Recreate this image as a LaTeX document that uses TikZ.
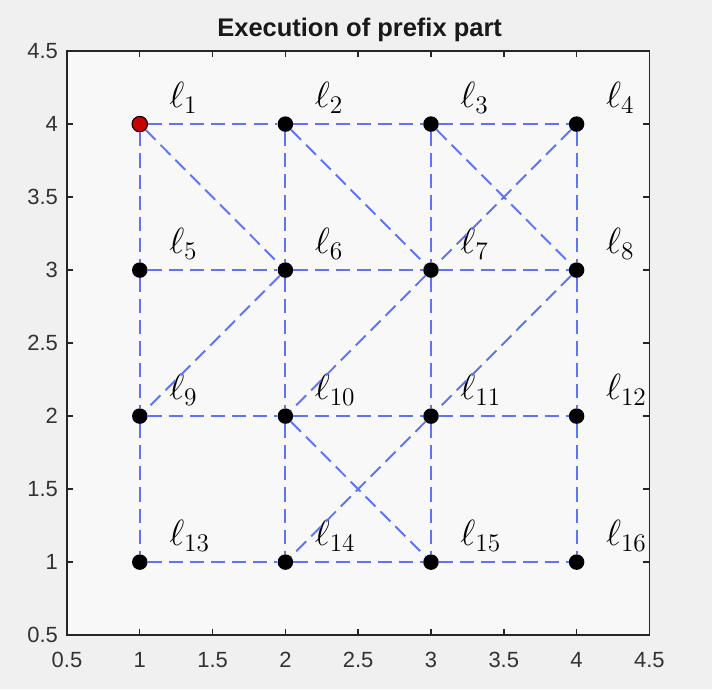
\documentclass[tikz,border=0pt]{standalone}
\usepackage{fontspec}
\newfontfamily\axisfont{Liberation Sans}
\usetikzlibrary{positioning}
\definecolor{edgecolor}{RGB}{95,115,245}
\definecolor{figcolor}{RGB}{240,240,240}
\definecolor{axescolor}{RGB}{248,248,248}
\definecolor{startcolor}{RGB}{200,0,0}

\begin{document}
\begin{tikzpicture}[
    x=2.912cm, y=2.92cm,
    loc/.style={circle, fill=black, inner sep=0pt, minimum size=0.31cm},
    start/.style={loc, fill=startcolor, draw=black, line width=0.6pt},
    lbl/.style={anchor=west, inner sep=0pt, font=\fontsize{19.5}{22}\selectfont},
    edge/.style={draw=edgecolor, line width=1.1pt, dash pattern=on 8pt off 4pt},
    axline/.style={draw=black!85, line width=0.8pt},
    ticklabel/.style={inner sep=0pt, font=\axisfont\fontsize{12.5}{14}\selectfont, text=black!80},
    titletext/.style={inner sep=0pt, font=\axisfont\bfseries\fontsize{14.5}{17}\selectfont, text=black!90}
]
    % Figure and axes
    \fill[figcolor] (0.04,0.13) rectangle (4.93,4.85);
    \useasboundingbox (0.04,0.13) rectangle (4.93,4.85);
    \fill[axescolor] (0.5,0.5) rectangle (4.5,4.5);
    \draw[axline] (0.5,0.5) rectangle (4.5,4.5);
    \foreach \t in {0.5,1,1.5,2,2.5,3,3.5,4,4.5} {
        \draw[axline] (\t,0.5) -- ++(0pt,0.12cm);
        \draw[axline] (\t,4.5) -- ++(0pt,-0.12cm);
        \draw[axline] (0.5,\t) -- ++(0.12cm,0pt);
        \draw[axline] (4.5,\t) -- ++(-0.12cm,0pt);
        \node[ticklabel] (xt\t) at (\t,0.33) {\t};
        \node[ticklabel, anchor=east] (yt\t) at (0.44,\t) {\t};
    }
    \node[titletext] (title) at (2.51,4.645) {Execution of prefix part};

    % Locations
    \node[start] (l1) at (1,4) {};
    \node[loc] (l2) at (2,4) {};
    \node[loc] (l3) at (3,4) {};
    \node[loc] (l4) at (4,4) {};
    \node[loc] (l5) at (1,3) {};
    \node[loc] (l6) at (2,3) {};
    \node[loc] (l7) at (3,3) {};
    \node[loc] (l8) at (4,3) {};
    \node[loc] (l9) at (1,2) {};
    \node[loc] (l10) at (2,2) {};
    \node[loc] (l11) at (3,2) {};
    \node[loc] (l12) at (4,2) {};
    \node[loc] (l13) at (1,1) {};
    \node[loc] (l14) at (2,1) {};
    \node[loc] (l15) at (3,1) {};
    \node[loc] (l16) at (4,1) {};

    % Labels
    \node[lbl] (t1) at (1.2,4.18) {$\ell_1$};
    \node[lbl] (t2) at (2.2,4.18) {$\ell_2$};
    \node[lbl] (t3) at (3.2,4.18) {$\ell_3$};
    \node[lbl] (t4) at (4.2,4.18) {$\ell_4$};
    \node[lbl] (t5) at (1.2,3.18) {$\ell_5$};
    \node[lbl] (t6) at (2.2,3.18) {$\ell_6$};
    \node[lbl] (t7) at (3.2,3.18) {$\ell_7$};
    \node[lbl] (t8) at (4.2,3.18) {$\ell_8$};
    \node[lbl] (t9) at (1.2,2.18) {$\ell_9$};
    \node[lbl] (t10) at (2.2,2.18) {$\ell_{10}$};
    \node[lbl] (t11) at (3.2,2.18) {$\ell_{11}$};
    \node[lbl] (t12) at (4.2,2.18) {$\ell_{12}$};
    \node[lbl] (t13) at (1.2,1.18) {$\ell_{13}$};
    \node[lbl] (t14) at (2.2,1.18) {$\ell_{14}$};
    \node[lbl] (t15) at (3.2,1.18) {$\ell_{15}$};
    \node[lbl] (t16) at (4.2,1.18) {$\ell_{16}$};

    % Horizontal edges
    \draw[edge] (l1) -- (l2);
    \draw[edge] (l2) -- (l3);
    \draw[edge] (l3) -- (l4);
    \draw[edge] (l5) -- (l6);
    \draw[edge] (l6) -- (l7);
    \draw[edge] (l7) -- (l8);
    \draw[edge] (l9) -- (l10);
    \draw[edge] (l10) -- (l11);
    \draw[edge] (l11) -- (l12);
    \draw[edge] (l13) -- (l14);
    \draw[edge] (l14) -- (l15);
    \draw[edge] (l15) -- (l16);

    % Vertical edges
    \draw[edge] (l1) -- (l5);
    \draw[edge] (l5) -- (l9);
    \draw[edge] (l9) -- (l13);
    \draw[edge] (l2) -- (l6);
    \draw[edge] (l6) -- (l10);
    \draw[edge] (l10) -- (l14);
    \draw[edge] (l3) -- (l7);
    \draw[edge] (l7) -- (l11);
    \draw[edge] (l11) -- (l15);
    \draw[edge] (l4) -- (l8);
    \draw[edge] (l8) -- (l12);
    \draw[edge] (l12) -- (l16);

    % Diagonal edges
    \draw[edge] (l1) -- (l6);
    \draw[edge] (l2) -- (l7);
    \draw[edge] (l3) -- (l8);
    \draw[edge] (l4) -- (l7);
    \draw[edge] (l6) -- (l9);
    \draw[edge] (l7) -- (l10);
    \draw[edge] (l8) -- (l11);
    \draw[edge] (l10) -- (l15);
    \draw[edge] (l11) -- (l14);

\end{tikzpicture}
\end{document}
